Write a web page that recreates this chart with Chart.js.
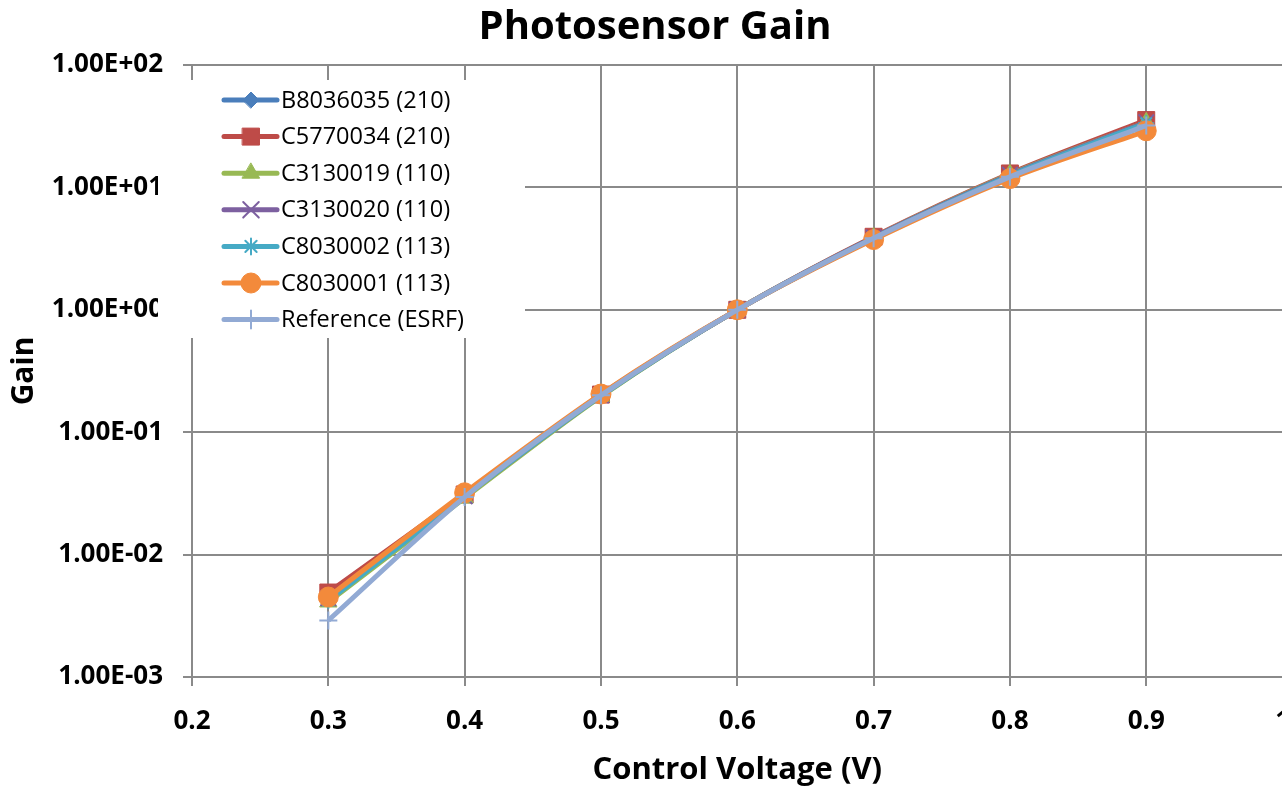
<!DOCTYPE html>
<html lang="en">
<head>
  <meta charset="UTF-8">
  <title>Photosensor Gain</title>
  <script src="https://cdn.jsdelivr.net/npm/chart.js"></script>
  <style>
    html, body { margin: 0; padding: 0; background: #fff; overflow: hidden; }
    #wrap { position: relative; width: 1310px; height: 789px; }
  </style>
</head>
<body>
  <div id="wrap"><canvas id="gainChart"></canvas></div>

  <script>
    // control voltage (V)
    const voltages = [0.3, 0.4, 0.5, 0.6, 0.7, 0.8, 0.9];

    // gain per photosensor
    const b8036035 = [0.0043, 0.030, 0.198, 1.0, 3.85, 12.6, 33.0];
    const c5770034 = [0.0049, 0.031, 0.203, 1.0, 3.95, 13.0, 35.5];
    const c3130019 = [0.0041, 0.029, 0.196, 1.0, 3.90, 12.8, 34.0];
    const c3130020 = [0.0044, 0.030, 0.200, 1.0, 3.90, 12.7, 34.0];
    const c8030002 = [0.0042, 0.030, 0.199, 1.0, 3.85, 12.5, 33.5];
    const c8030001 = [0.0045, 0.032, 0.205, 1.0, 3.75, 11.8, 29.0];
    const esrfRef  = [0.0029, 0.0295, 0.200, 1.0, 3.85, 12.2, 32.0];

    const seriesNames = ['B8036035 (210)', 'C5770034 (210)', 'C3130019 (110)',
      'C3130020 (110)', 'C8030002 (113)', 'C8030001 (113)', 'Reference (ESRF)'];

    const xTickLabels = ['0.2', '0.3', '0.4', '0.5', '0.6', '0.7', '0.8', '0.9', '1'];
    const yTickValues = [0.001, 0.01, 0.1, 1, 10, 100];
    const yTickLabels = ['1.00E-03', '1.00E-02', '1.00E-01', '1.00E+00', '1.00E+01', '1.00E+02'];

    const styles = [
      { color: '#4A7EBB', point: 'rectRot',  r: 8,  bw: 1 },
      { color: '#BE4B48', point: 'rect',     r: 12, bw: 1 },
      { color: '#98B954', point: 'triangle', r: 10, bw: 1 },
      { color: '#7D60A0', point: 'crossRot', r: 11, bw: 2 },
      { color: '#46AAC5', point: 'star',     r: 8,  bw: 2 },
      { color: '#F38A3B', point: 'circle',   r: 10, bw: 1 },
      { color: '#92AAD4', point: 'cross',    r: 9,  bw: 2 }
    ];

    const allSeries = [b8036035, c5770034, c3130019, c3130020, c8030002, c8030001, esrfRef];

    const datasets = allSeries.map((vals, i) => ({
      label: seriesNames[i],
      data: voltages.map((v, j) => ({ x: v, y: vals[j] })),
      borderColor: styles[i].color,
      backgroundColor: styles[i].color,
      pointBackgroundColor: styles[i].color,
      pointBorderColor: styles[i].color,
      pointStyle: styles[i].point,
      pointRadius: styles[i].r,
      pointBorderWidth: styles[i].bw,
      borderWidth: 5,
      tension: 0.3,
      order: allSeries.length - i   // later series on top, like Excel
    }));

    // legend drawn as a white box over the top-left of the plot
    const legendBox = {
      id: 'legendBox',
      afterDraw(chart) {
        const ctx = chart.ctx;
        const a = chart.chartArea;
        const boxL = a.left - 34, boxT = a.top + 15, boxR = a.left + 333, boxB = a.top + 273;
        ctx.save();
        ctx.fillStyle = '#fff';
        ctx.fillRect(boxL, boxT, boxR - boxL, boxB - boxT);
        chart.data.datasets.forEach((ds, i) => {
          const y = a.top + 35 + i * 36.6;
          const x0 = a.left + 32;
          ctx.lineCap = 'round';
          ctx.strokeStyle = ds.borderColor;
          ctx.lineWidth = 5;
          ctx.beginPath();
          ctx.moveTo(x0, y);
          ctx.lineTo(x0 + 53, y);
          ctx.stroke();
          ctx.fillStyle = ds.pointBackgroundColor;
          ctx.strokeStyle = ds.pointBorderColor;
          ctx.lineWidth = ds.pointBorderWidth;
          Chart.helpers.drawPoint(ctx, {
            pointStyle: ds.pointStyle, radius: ds.pointRadius,
            rotation: 0, borderWidth: ds.pointBorderWidth
          }, x0 + 27, y);
          ctx.fillStyle = '#000';
          ctx.font = '23.5px "Open Sans", sans-serif';
          ctx.textAlign = 'left';
          ctx.textBaseline = 'middle';
          ctx.fillText(ds.label, x0 + 57, y + 1);
        });
        ctx.restore();
      }
    };

    const gridColor = '#8a8a8a';

    new Chart(document.getElementById('gainChart'), {
      type: 'line',
      data: { datasets },
      plugins: [legendBox],
      options: {
        responsive: true,
        maintainAspectRatio: false,
        animation: false,
        layout: { padding: 0 },
        plugins: {
          legend: { display: false },
          tooltip: { enabled: false },
          title: {
            display: true,
            text: 'Photosensor Gain',
            color: '#000',
            font: { family: '"Open Sans", sans-serif', size: 40, weight: 'bold', lineHeight: 1.2 },
            padding: { top: 4, bottom: 13 }
          }
        },
        scales: {
          x: {
            type: 'linear',
            min: 0.2,
            max: 1.0,
            afterFit: s => { s.height = 112; },
            ticks: {
              stepSize: 0.1,
              color: '#000',
              padding: 20,
              maxRotation: 0,
              font: { family: '"Open Sans", sans-serif', size: 26, weight: 'bold' },
              callback: (v, i) => xTickLabels[i]
            },
            grid: { color: gridColor, lineWidth: 2, tickLength: 9 },
            border: { color: gridColor, width: 2 },
            title: {
              display: true,
              text: 'Control Voltage (V)',
              color: '#000',
              font: { family: '"Open Sans", sans-serif', size: 31, weight: 'bold' },
              padding: { top: 0, bottom: 0 }
            }
          },
          y: {
            type: 'logarithmic',
            min: 0.001,
            max: 100,
            afterFit: s => { s.width = 192; },
            afterBuildTicks: s => { s.ticks = yTickValues.map(v => ({ value: v })); },
            ticks: {
              color: '#000',
              padding: 20,
              font: { family: '"Open Sans", sans-serif', size: 26, weight: 'bold' },
              callback: (v, i) => yTickLabels[i]
            },
            grid: { color: gridColor, lineWidth: 2, tickLength: 9 },
            border: { color: gridColor, width: 2 },
            title: {
              display: true,
              text: 'Gain',
              color: '#000',
              font: { family: '"Open Sans", sans-serif', size: 30, weight: 'bold' },
              padding: { top: 6, bottom: 0 }
            }
          },
          // empty strip on the right so the plot runs to the window edge
          rightPad: {
            type: 'linear',
            position: 'right',
            afterFit: s => { s.width = 27; },
            grid: { display: false },
            border: { display: false },
            ticks: { display: false }
          }
        }
      }
    });
  </script>
</body>
</html>
